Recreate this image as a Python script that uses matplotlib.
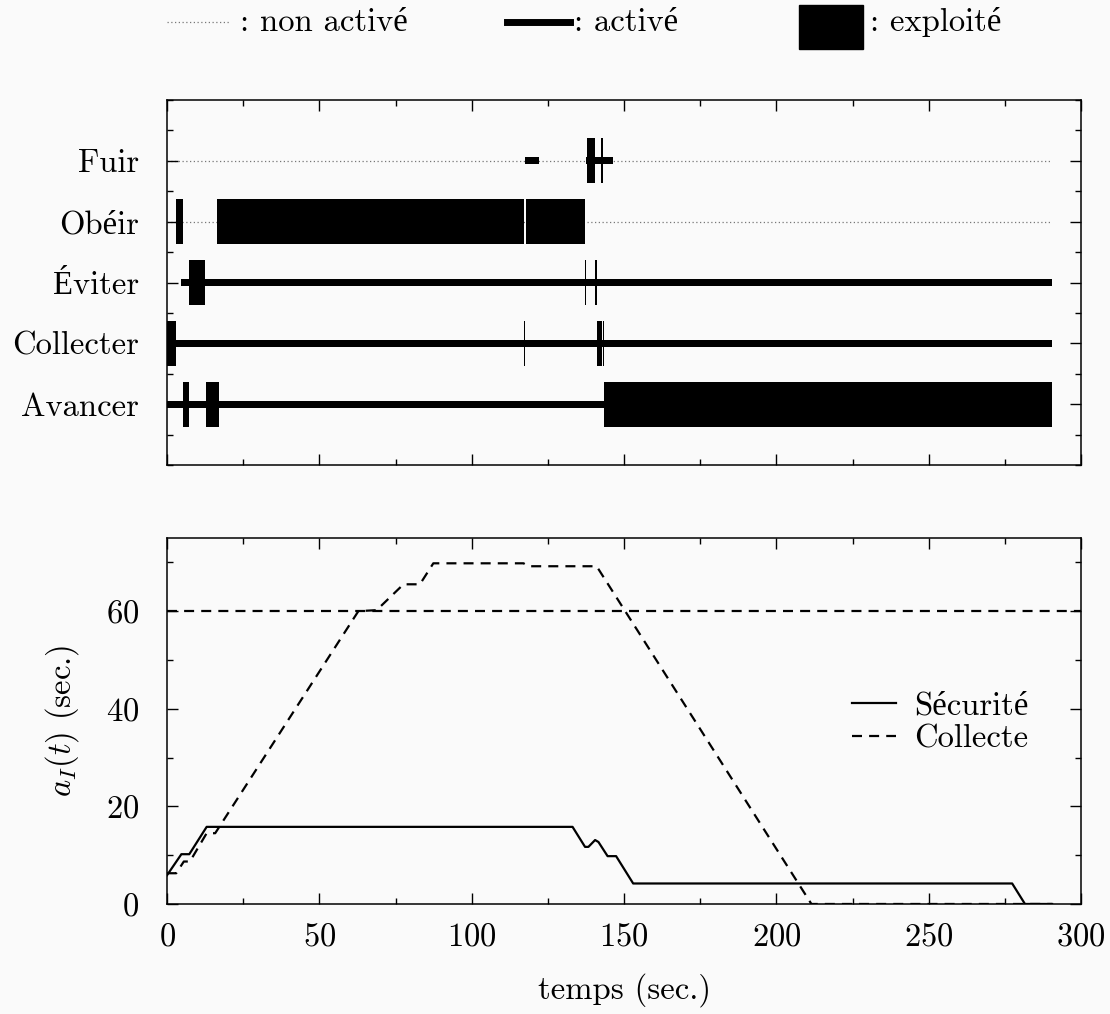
import matplotlib.pyplot as plt
from matplotlib.lines import Line2D
from matplotlib.patches import Rectangle
from matplotlib.ticker import MultipleLocator

plt.rcParams['font.family'] = ['cmr10', 'Liberation Serif']
plt.rcParams['mathtext.fontset'] = 'cm'
plt.rcParams['axes.formatter.use_mathtext'] = True
plt.rcParams['font.size'] = 23.5

BG = '#fafafa'

# --- behaviours (bottom to top) ---
behaviours = ['Avancer', 'Collecter', 'Éviter', 'Obéir', 'Fuir']

# (start, end) intervals in seconds
non_active = {
    'Fuir': [(0, 290.5)],
    'Obéir': [(0, 290.5)],
    'Éviter': [],
    'Collecter': [],
    'Avancer': [],
}
active = {
    'Fuir': [(117.5, 122.2), (137.6, 146.4)],
    'Obéir': [],
    'Éviter': [(4.6, 290.5)],
    'Collecter': [(0, 290.5)],
    'Avancer': [(0, 143.4)],
}
exploited = {
    'Fuir': [(137.7, 140.5), (142.5, 143.0)],
    'Obéir': [(3.0, 5.3), (16.4, 117.0), (117.7, 137.2)],
    'Éviter': [(7.3, 12.6), (137.1, 137.6), (140.6, 141.1)],
    'Collecter': [(0, 2.8), (117.1, 117.6), (141.0, 142.7), (143.0, 143.4)],
    'Avancer': [(5.3, 7.2), (12.7, 17.1), (143.4, 290.5)],
}

# --- a_I(t) curves ---
t_secu = [0, 4.7, 7.3, 13.0, 133.1, 137.2, 138.3, 140.5, 141.6, 144.6, 147.4, 153.0, 277.4, 281.6, 290.5]
a_secu = [5.9, 10.2, 10.2, 15.8, 15.8, 11.7, 11.7, 13.1, 12.7, 9.8, 9.8, 4.2, 4.2, 0, 0]

t_coll = [0, 3.0, 5.5, 7.5, 13.0, 15.8, 62.8, 68.8, 77.6, 83.0, 87.4, 117.0, 118.6, 141.0, 211.5, 290.5]
a_coll = [6.3, 6.3, 8.7, 8.7, 14.5, 14.5, 60.0, 60.2, 65.5, 65.5, 69.8, 69.8, 69.2, 69.2, 0, 0]

threshold = 60

fig = plt.figure(figsize=(11.1, 10.14), dpi=100, facecolor=BG)


def style_axes(ax):
    ax.set_facecolor(BG)
    for s in ax.spines.values():
        s.set_linewidth(1.1)
    ax.tick_params(which='both', direction='in', top=True, right=True, width=1.0)
    ax.tick_params(which='major', length=8)
    ax.tick_params(which='minor', length=4.5)
    ax.xaxis.set_major_locator(MultipleLocator(50))
    ax.xaxis.set_minor_locator(MultipleLocator(25))


# top panel
ax1 = fig.add_axes([0.1505, 0.5414, 0.8234, 0.360])
style_axes(ax1)
bar_h = 0.74
line_h = 0.115
for i, name in enumerate(behaviours):
    y = i + 1
    for a, b in non_active[name]:
        ax1.plot([a, b], [y, y], color='#777777', lw=0.9, ls=(0, (1, 2)), zorder=1)
    for a, b in active[name]:
        ax1.barh(y, b - a, left=a, height=line_h, color='black', lw=0, zorder=2)
    for a, b in exploited[name]:
        ax1.barh(y, b - a, left=a, height=bar_h, color='black', lw=0, zorder=3)
ax1.set_xlim(0, 300)
ax1.set_ylim(0, 6)
ax1.set_yticks(range(1, 6))
ax1.set_yticklabels(behaviours)
ax1.yaxis.set_minor_locator(MultipleLocator(0.5))
ax1.set_xticklabels([])
ax1.tick_params(axis='y', which='major', pad=20)

# bottom panel
ax2 = fig.add_axes([0.1505, 0.1085, 0.8234, 0.361])
style_axes(ax2)
ax2.axhline(threshold, color='black', lw=1.6, dashes=(4.5, 3.2))
ax2.plot(t_secu, a_secu, color='black', lw=1.6, label='Sécurité')
ax2.plot(t_coll, a_coll, color='black', lw=1.6, dashes=(4.5, 3.2), label='Collecte')
ax2.set_xlim(0, 300)
ax2.set_ylim(0, 75)
ax2.yaxis.set_major_locator(MultipleLocator(20))
ax2.yaxis.set_minor_locator(MultipleLocator(10))
ax2.tick_params(axis='y', which='major', pad=20)
ax2.tick_params(axis='x', which='major', pad=13)
ax2.set_xlabel('temps (sec.)', labelpad=16)
ax2.set_ylabel(r'$a_I(t)$ (sec.)', labelpad=18)
ax2.legend(loc='upper left', bbox_to_anchor=(0.749, 0.58), frameon=False,
           handlelength=1.35, handletextpad=0.58, labelspacing=0.1,
           borderpad=0, borderaxespad=0)

# top legend, in figure pixels converted to fractions
W, H = 1110, 1014
fig.add_artist(Line2D([167 / W, 230 / W], [1 - 22 / H] * 2, color='#777777', lw=0.9, ls=(0, (1, 2))))
fig.text(240 / W, 1 - 22 / H, ': non activé', va='center', ha='left')
fig.add_artist(Line2D([507 / W, 570 / W], [1 - 22 / H] * 2, color='black', lw=5))
fig.text(574 / W, 1 - 22 / H, ': activé', va='center', ha='left')
fig.add_artist(Rectangle((799 / W, 1 - 49 / H), 64 / W, 44 / H, color='black'))
fig.text(870 / W, 1 - 22 / H, ': exploité', va='center', ha='left')

fig.savefig('out.png', dpi=100, facecolor=BG)
